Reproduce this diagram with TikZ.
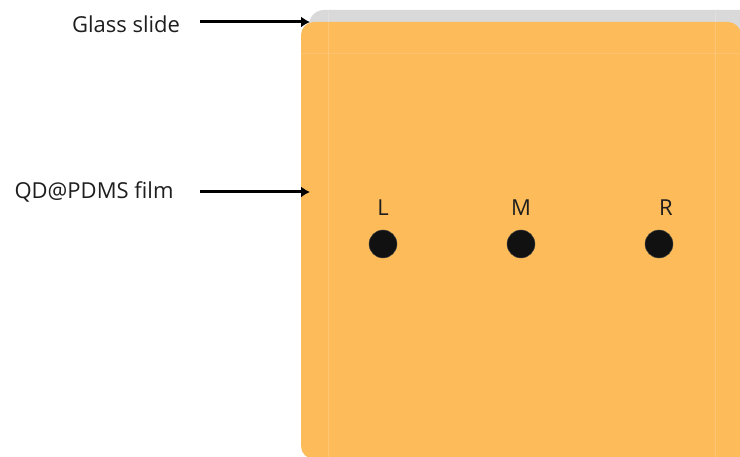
\documentclass[tikz,border=0pt]{standalone}
\usepackage{fontspec}
\setmainfont{Open Sans}
\usetikzlibrary{arrows.meta}
\definecolor{film}{HTML}{FDBB5A}
\definecolor{glass}{HTML}{D9D9D9}
\definecolor{dotc}{HTML}{111111}
\definecolor{txt}{HTML}{1E1E1E}
\begin{document}
\begin{tikzpicture}[x=1pt,y=-1pt,
  lbl/.style={font=\fontsize{22}{26}\selectfont, text=txt, inner sep=0pt},
  ptr/.style={line width=3pt, -{Latex[length=9pt,width=11pt]}},
  qd/.style={circle, fill=dotc, draw=black!70, line width=0.4pt, minimum size=28pt, inner sep=0pt}]
\useasboundingbox (0,0) rectangle (740,457);
\path[fill=glass, rounded corners=15pt] (309,10) rectangle (770,470);
\path[fill=film, rounded corners=13pt] (301,22) rectangle (741,459);
\fill[film] (720,430) rectangle (741,459);
\draw[white, opacity=0.18, line width=0.8pt] (328,10) -- (328,457);
\draw[white, opacity=0.18, line width=0.8pt] (715,10) -- (715,457);
\draw[white, opacity=0.12, line width=0.8pt] (301,53) -- (740,53);
\node[lbl] (gs) at (126,24) {Glass slide};
\node[lbl] (qdf) at (94,192) {QD@PDMS film};
\coordinate (gsT) at (310,22);
\coordinate (qdT) at (310,192);
\draw[ptr] (200,22) -- (gsT);
\draw[ptr] (200,192) -- (qdT);
\node[qd] (L) at (383,244) {};
\node[qd] (M) at (521,244) {};
\node[qd] (R) at (659,244) {};
\node[lbl] (Lt) at (383,208) {L};
\node[lbl] (Mt) at (521,208) {M};
\node[lbl] (Rt) at (666,208) {R};
\end{tikzpicture}
\end{document}
